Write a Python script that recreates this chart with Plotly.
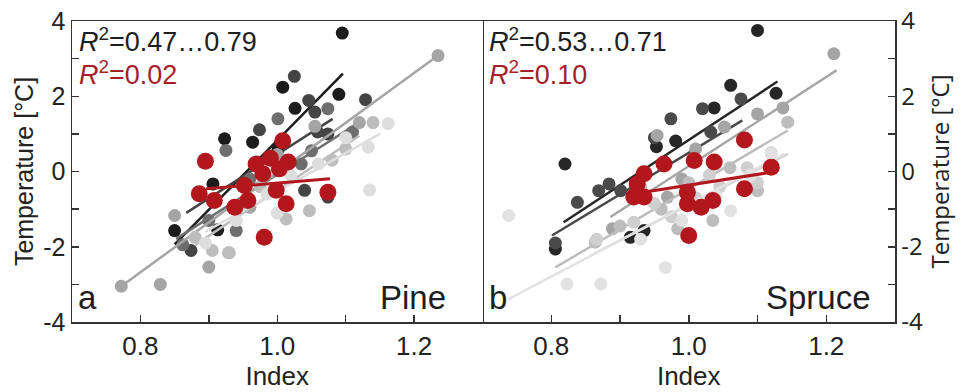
import plotly.graph_objects as go

# ---------------- data ----------------
# Panel a (Pine): grey series, each with points and fitted-line end values
pine_colors = ["#1c1c1c", "#444444", "#6e6e6e", "#a5a5a5", "#bdbdbd", "#dedede"]
pine_x = [
    [0.850, 0.906, 0.923, 0.964, 1.001, 1.008, 1.026, 1.090, 1.095, 0.913],
    [0.874, 0.974, 1.025, 1.046, 1.055, 1.059, 1.074, 1.040, 1.074, 1.129],
    [0.862, 0.900, 0.925, 0.960, 1.001, 1.035, 1.074, 1.110, 1.050, 0.940],
    [0.772, 0.829, 0.850, 0.900, 0.929, 0.960, 1.000, 1.055, 1.120, 1.235],
    [0.880, 0.905, 0.930, 0.975, 1.013, 1.047, 1.080, 1.100, 1.140, 1.000],
    [0.895, 0.940, 0.985, 1.020, 1.060, 1.100, 1.133, 1.135, 1.162, 1.000],
]
pine_y = [
    [-1.57, -0.33, 0.87, 0.78, 0.58, 2.24, 1.68, 2.05, 3.68, -1.55],
    [-2.10, 1.11, 2.53, 1.89, 1.58, 1.05, 1.00, -0.50, -0.68, 1.91],
    [-1.95, -1.30, 0.56, -0.20, 1.40, 0.20, 1.67, 1.05, 0.55, -1.57],
    [-3.05, -3.00, -1.17, -2.54, -2.16, -0.95, 0.45, 1.20, 1.30, 3.08],
    [-1.75, -2.10, -2.16, -0.40, -1.26, -1.04, 0.30, 0.60, 1.30, 0.10],
    [-1.90, -1.30, -0.60, -0.10, 0.20, 0.90, 0.65, -0.49, 1.27, -1.10],
]
pine_fit_x = [[0.850, 1.096], [0.867, 1.081], [0.852, 1.120], [0.772, 1.235], [0.880, 1.120], [0.895, 1.150]]
pine_fit_y = [[-1.94, 2.60], [-1.10, 1.40], [-1.79, 1.31], [-3.05, 3.08], [-1.95, 0.95], [-1.60, 1.00]]

pine_red_x = [0.895, 1.008, 0.969, 1.016, 1.003, 0.979, 0.952, 0.886, 0.908, 0.938, 0.957, 0.9985, 1.013, 1.074, 0.981, 0.990]
pine_red_y = [0.27, 0.82, 0.20, 0.25, 0.07, -0.06, -0.37, -0.59, -0.77, -0.95, -0.77, -0.50, -0.86, -0.55, -1.75, 0.35]
pine_red_fit_x = [0.896, 1.077]
pine_red_fit_y = [-0.46, -0.19]

# Panel b (Spruce)
spruce_colors = ["#262626", "#4a4a4a", "#a5a5a5", "#bdbdbd", "#cfcfcf", "#e2e2e2"]
spruce_x = [
    [0.806, 0.820, 0.915, 0.935, 0.953, 0.981, 1.037, 1.061, 1.100, 1.127],
    [0.838, 0.869, 0.884, 0.901, 0.974, 1.020, 1.032, 1.076, 0.950, 0.806],
    [0.889, 0.954, 0.969, 1.052, 1.100, 1.137, 1.211, 0.990, 1.010, 1.080],
    [0.864, 0.984, 1.035, 1.100, 1.144, 0.930, 1.060, 0.960, 1.000, 0.900],
    [0.866, 0.920, 0.975, 1.010, 1.045, 1.085, 1.120, 0.950, 1.030, 1.100],
    [0.738, 0.823, 0.872, 0.966, 1.061, 1.120, 0.990, 1.040, 0.930, 1.090],
]
spruce_y = [
    [-2.06, 0.20, -1.75, -1.57, 0.66, 0.81, 1.69, 2.29, 3.75, 2.08],
    [-0.82, -0.51, -0.33, -0.51, 1.40, 1.67, 1.05, 1.93, 0.90, -1.90],
    [-1.52, 0.96, -0.68, 1.18, 1.53, 1.69, 3.13, -0.20, 0.60, 0.90],
    [-1.88, -1.52, -1.30, -0.51, 1.31, -0.40, 0.10, -1.00, -0.30, -1.45],
    [-1.80, -1.35, -1.20, -0.70, -0.40, 0.10, 0.50, -0.85, -0.10, -0.30],
    [-1.17, -2.99, -2.99, -2.55, -1.04, 0.47, -1.30, -0.65, -1.80, -0.10],
]
spruce_fit_x = [[0.818, 1.129], [0.801, 1.078], [0.886, 1.215], [0.806, 1.144], [0.862, 1.144], [0.738, 1.139]]
spruce_fit_y = [[-1.35, 2.39], [-1.70, 1.36], [-1.21, 2.69], [-2.55, 1.09], [-2.19, 0.47], [-3.39, 0.47]]

spruce_red_x = [1.120, 1.081, 1.037, 1.008, 0.964, 0.935, 0.925, 0.920, 0.935, 0.998, 0.998, 1.018, 1.035, 1.081, 1.000]
spruce_red_y = [0.11, 0.84, 0.25, 0.29, 0.20, -0.06, -0.33, -0.68, -0.68, -0.55, -0.86, -0.95, -0.77, -0.46, -1.70]
spruce_red_fit_x = [0.920, 1.120]
spruce_red_fit_y = [-0.59, -0.02]

y_tickvals = [-4, -3, -2, -1, 0, 1, 2, 3, 4]
y_ticktext = ["-4", "", "-2", "", "0", "", "2", "", "4"]
x_tickvals = [0.8, 0.9, 1.0, 1.1, 1.2]
x_ticktext = ["0.8", "", "1.0", "", "1.2"]

RED = "#b3171e"
RED_TEXT = "#a51f29"
AX = "#333333"
FONT = "Liberation Sans, Arial, sans-serif"

fig = go.Figure()


def add_panel(xs, ys, fxs, fys, colors, rx, ry, rfx, rfy, xa, ya):
    for px, py, fx, fy, c in zip(xs, ys, fxs, fys, colors):
        fig.add_trace(go.Scatter(x=px, y=py, mode="markers", xaxis=xa, yaxis=ya,
                                 marker=dict(size=13, color=c, line=dict(width=0)),
                                 showlegend=False, hoverinfo="skip"))
        fig.add_trace(go.Scatter(x=fx, y=fy, mode="lines", xaxis=xa, yaxis=ya,
                                 line=dict(color=c, width=2.5),
                                 showlegend=False, hoverinfo="skip"))
    fig.add_trace(go.Scatter(x=rx, y=ry, mode="markers", xaxis=xa, yaxis=ya,
                             marker=dict(size=17, color=RED, line=dict(width=0)),
                             showlegend=False, hoverinfo="skip"))
    fig.add_trace(go.Scatter(x=rfx, y=rfy, mode="lines", xaxis=xa, yaxis=ya,
                             line=dict(color=RED, width=3),
                             showlegend=False, hoverinfo="skip"))


add_panel(pine_x, pine_y, pine_fit_x, pine_fit_y, pine_colors,
          pine_red_x, pine_red_y, pine_red_fit_x, pine_red_fit_y, "x", "y")
add_panel(spruce_x, spruce_y, spruce_fit_x, spruce_fit_y, spruce_colors,
          spruce_red_x, spruce_red_y, spruce_red_fit_x, spruce_red_fit_y, "x2", "y2")

xcommon = dict(range=[0.7, 1.3], tickvals=x_tickvals, ticktext=x_ticktext,
               ticks="inside", ticklen=7, tickwidth=1.5, tickcolor=AX,
               showline=True, linecolor=AX, linewidth=1.5, mirror=True,
               showgrid=False, zeroline=False, automargin=False,
               tickfont=dict(family=FONT, size=26, color="#222222"),
               title=dict(text="Index", font=dict(family=FONT, size=26, color="#222222"), standoff=0))
ycommon = dict(range=[-4, 4], tickvals=y_tickvals, ticktext=y_ticktext,
               ticks="inside", ticklen=7, tickwidth=1.5, tickcolor=AX,
               showline=True, linecolor=AX, linewidth=1.5,
               showgrid=False, zeroline=False, automargin=False)

split = 0.4988
fig.update_layout(
    width=965, height=392,
    margin=dict(l=72, r=70, t=21, b=70),
    paper_bgcolor="white", plot_bgcolor="white",
    xaxis=dict(domain=[0, split], anchor="y", **xcommon),
    xaxis2=dict(domain=[split, 1], anchor="y2", **xcommon),
    yaxis=dict(domain=[0, 1], anchor="x", side="left", mirror=True, **ycommon,
               tickfont=dict(family=FONT, size=25, color="#222222"),
               title=dict(text="Temperature [°C]", font=dict(family=FONT, size=25, color="#222222"), standoff=2)),
    yaxis2=dict(domain=[0, 1], anchor="x2", side="right", mirror=False, **ycommon,
                tickfont=dict(family="Open Sans, sans-serif", size=24, color="#222222"),
                title=dict(text="Temperature [°C]", font=dict(family="Open Sans, sans-serif", size=24, color="#222222"), standoff=6)),
)

def ann(text, xref, yref, x, y, xanchor, size, color):
    fig.add_annotation(text=text, xref=xref, yref=yref, x=x, y=y, xanchor=xanchor,
                       yanchor="middle", showarrow=False,
                       font=dict(family=FONT, size=size, color=color))

ann("<i>R</i><sup>2</sup>=0.47…0.79", "x domain", "y domain", 0.012, 0.937, "left", 27, "#1e1e1e")
ann("<i>R</i><sup>2</sup>=0.02", "x domain", "y domain", 0.012, 0.827, "left", 27, RED_TEXT)
ann("a", "x domain", "y domain", 0.01, 0.08, "left", 33, "#1e1e1e")
ann("Pine", "x domain", "y domain", 0.917, 0.08, "right", 33, "#1e1e1e")
ann("<i>R</i><sup>2</sup>=0.53…0.71", "x2 domain", "y2 domain", 0.012, 0.937, "left", 27, "#1e1e1e")
ann("<i>R</i><sup>2</sup>=0.10", "x2 domain", "y2 domain", 0.012, 0.827, "left", 27, RED_TEXT)
ann("b", "x2 domain", "y2 domain", 0.01, 0.08, "left", 33, "#1e1e1e")
ann("Spruce", "x2 domain", "y2 domain", 0.946, 0.08, "right", 33, "#1e1e1e")

fig.write_html("out.html",
               config={"displayModeBar": False, "staticPlot": True},
               post_script="document.body.style.margin='0px';document.body.style.overflow='hidden';")
